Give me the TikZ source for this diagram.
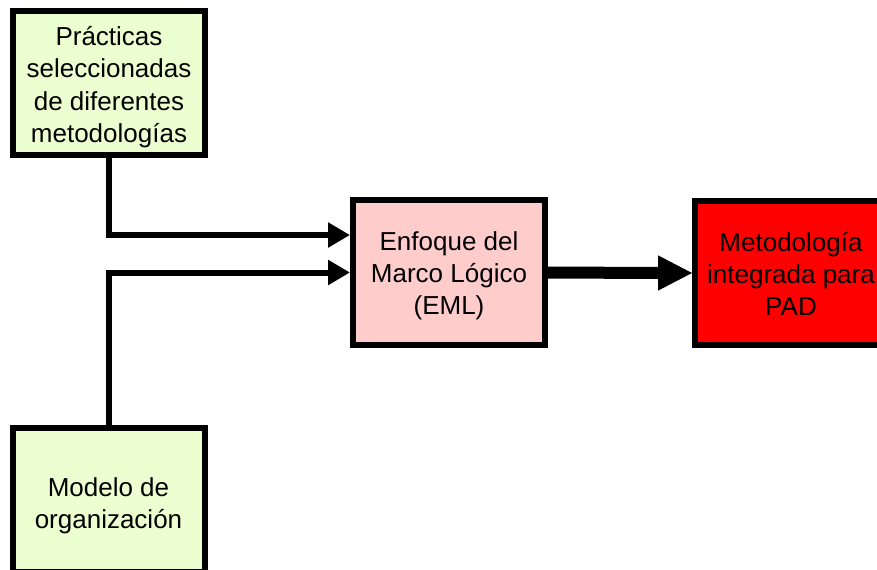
\documentclass[tikz,border=0pt]{standalone}
\usepackage{fontspec}
\setmainfont{Liberation Sans}
\usetikzlibrary{arrows.meta}
\definecolor{inputgreen}{RGB}{235,255,208}
\definecolor{emlpink}{RGB}{255,204,204}
\definecolor{resultred}{RGB}{255,0,0}
% centred multi-line text; the first argument adds empty room above it,
% which moves the text down by half that amount inside its box
\newcommand{\boxtext}[2]{\raisebox{0pt}[\dimexpr\height+#1\relax][\depth]{\begin{tabular}{@{}c@{}}#2\end{tabular}}}
\tikzset{
  box/.style={draw=black, line width=4.5pt, minimum width=144pt, minimum height=108pt,
    inner sep=0pt, font=\fontsize{19.5pt}{24.2pt}\selectfont},
  conn/.style={line width=4.5pt, -{Triangle[length=16.5pt,width=18pt]}},
  bigshaft/.style={line width=9pt},
  bighead/.style={fill=black}
}
\begin{document}
\begin{tikzpicture}[x=0.75pt,y=-0.75pt]
\clip (0,0) rectangle (877,570);
\node[box, fill=inputgreen] (prac) at (109,83)
  {\boxtext{6.8pt}{Prácticas\\seleccionadas\\de diferentes\\metodologías}};
\node[box, fill=emlpink] (eml) at (449,272.5)
  {\boxtext{5.2pt}{Enfoque del\\Marco Lógico\\(EML)}};
\node[box, fill=resultred] (pad) at (791,273)
  {\boxtext{6pt}{Metodología\\integrada para\\PAD}};
\node[box, fill=inputgreen] (org) at (108.5,500)
  {\boxtext{9pt}{Modelo de\\organización}};
\draw[conn] (prac.south) |- ([yshift=28.1pt]eml.west);
\draw[conn] (org.north) |- (eml.west);
% thick arrow from EML to the integrated methodology
\draw[bigshaft] (eml.east) -- ([xshift=-24pt]pad.west);
\fill[bighead] ([xshift=-25.5pt,yshift=13.25pt]pad.west) -- (pad.west)
  -- ([xshift=-25.5pt,yshift=-13.25pt]pad.west) -- cycle;
\end{tikzpicture}
\end{document}
